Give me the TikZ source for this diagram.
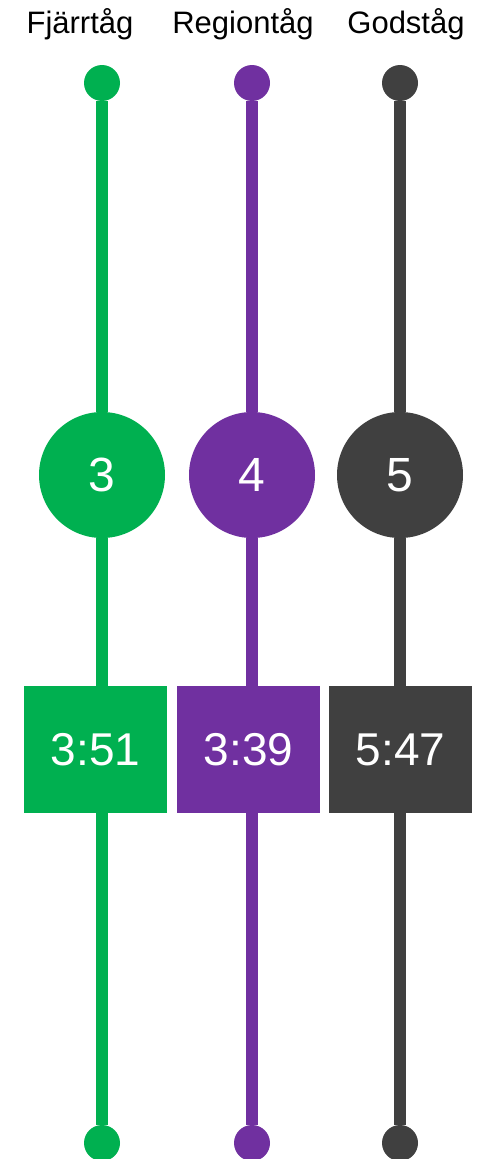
\documentclass[tikz,border=0pt]{standalone}
\usepackage{fontspec}
\setmainfont{Liberation Sans}
\usepackage{tikz}
\usetikzlibrary{positioning}
\definecolor{fjarr}{HTML}{00B050}
\definecolor{region}{HTML}{7030A0}
\definecolor{gods}{HTML}{404040}

\begin{document}
\begin{tikzpicture}[x=1pt,y=-1pt,line width=12pt]
        \tikzstyle{dot} = [circle, inner sep=0pt, outer sep=0pt, minimum size=36pt]
        \tikzstyle{count} = [circle, inner sep=0pt, outer sep=0pt, minimum size=126pt, text=white, font=\fontsize{48}{48}\selectfont]
        \tikzstyle{time} = [rectangle, inner sep=0pt, outer sep=0pt, minimum width=143pt, minimum height=127pt, text=white, font=\fontsize{46}{46}\selectfont]
        \tikzstyle{head} = [anchor=base, inner sep=0pt, font=\fontsize{31}{31}\selectfont]

        \useasboundingbox (0,0) rectangle (490,1159);

        % Headings
        \node[head] (h1) at (80,33) {Fjärrtåg};
        \node[head] (h2) at (243,33) {Regiontåg};
        \node[head] (h3) at (406,33) {Godståg};

        % Nodes
        \node[dot, fill=fjarr] (t1) at (102,83) {};
        \node[count, fill=fjarr] (c1) at (102,475) {3};
        \node[time, fill=fjarr] (b1) at (95.5,749.5) {3:51};
        \node[dot, fill=fjarr] (e1) at (102,1143) {};
        \node[dot, fill=region] (t2) at (252,83) {};
        \node[count, fill=region] (c2) at (252,475) {4};
        \node[time, fill=region] (b2) at (248.5,749.5) {3:39};
        \node[dot, fill=region] (e2) at (252,1143) {};
        \node[dot, fill=gods] (t3) at (400,83) {};
        \node[count, fill=gods] (c3) at (400,475) {5};
        \node[time, fill=gods] (b3) at (400.5,749.5) {5:47};
        \node[dot, fill=gods] (e3) at (400,1143) {};

        % Edges
        \draw[fjarr] (t1) -- (c1);
        \draw[fjarr] (c1) -- (c1 |- b1.north);
        \draw[fjarr] (c1 |- b1.south) -- (e1);
        \draw[region] (t2) -- (c2);
        \draw[region] (c2) -- (c2 |- b2.north);
        \draw[region] (c2 |- b2.south) -- (e2);
        \draw[gods] (t3) -- (c3);
        \draw[gods] (c3) -- (c3 |- b3.north);
        \draw[gods] (c3 |- b3.south) -- (e3);
    \end{tikzpicture}
\end{document}
